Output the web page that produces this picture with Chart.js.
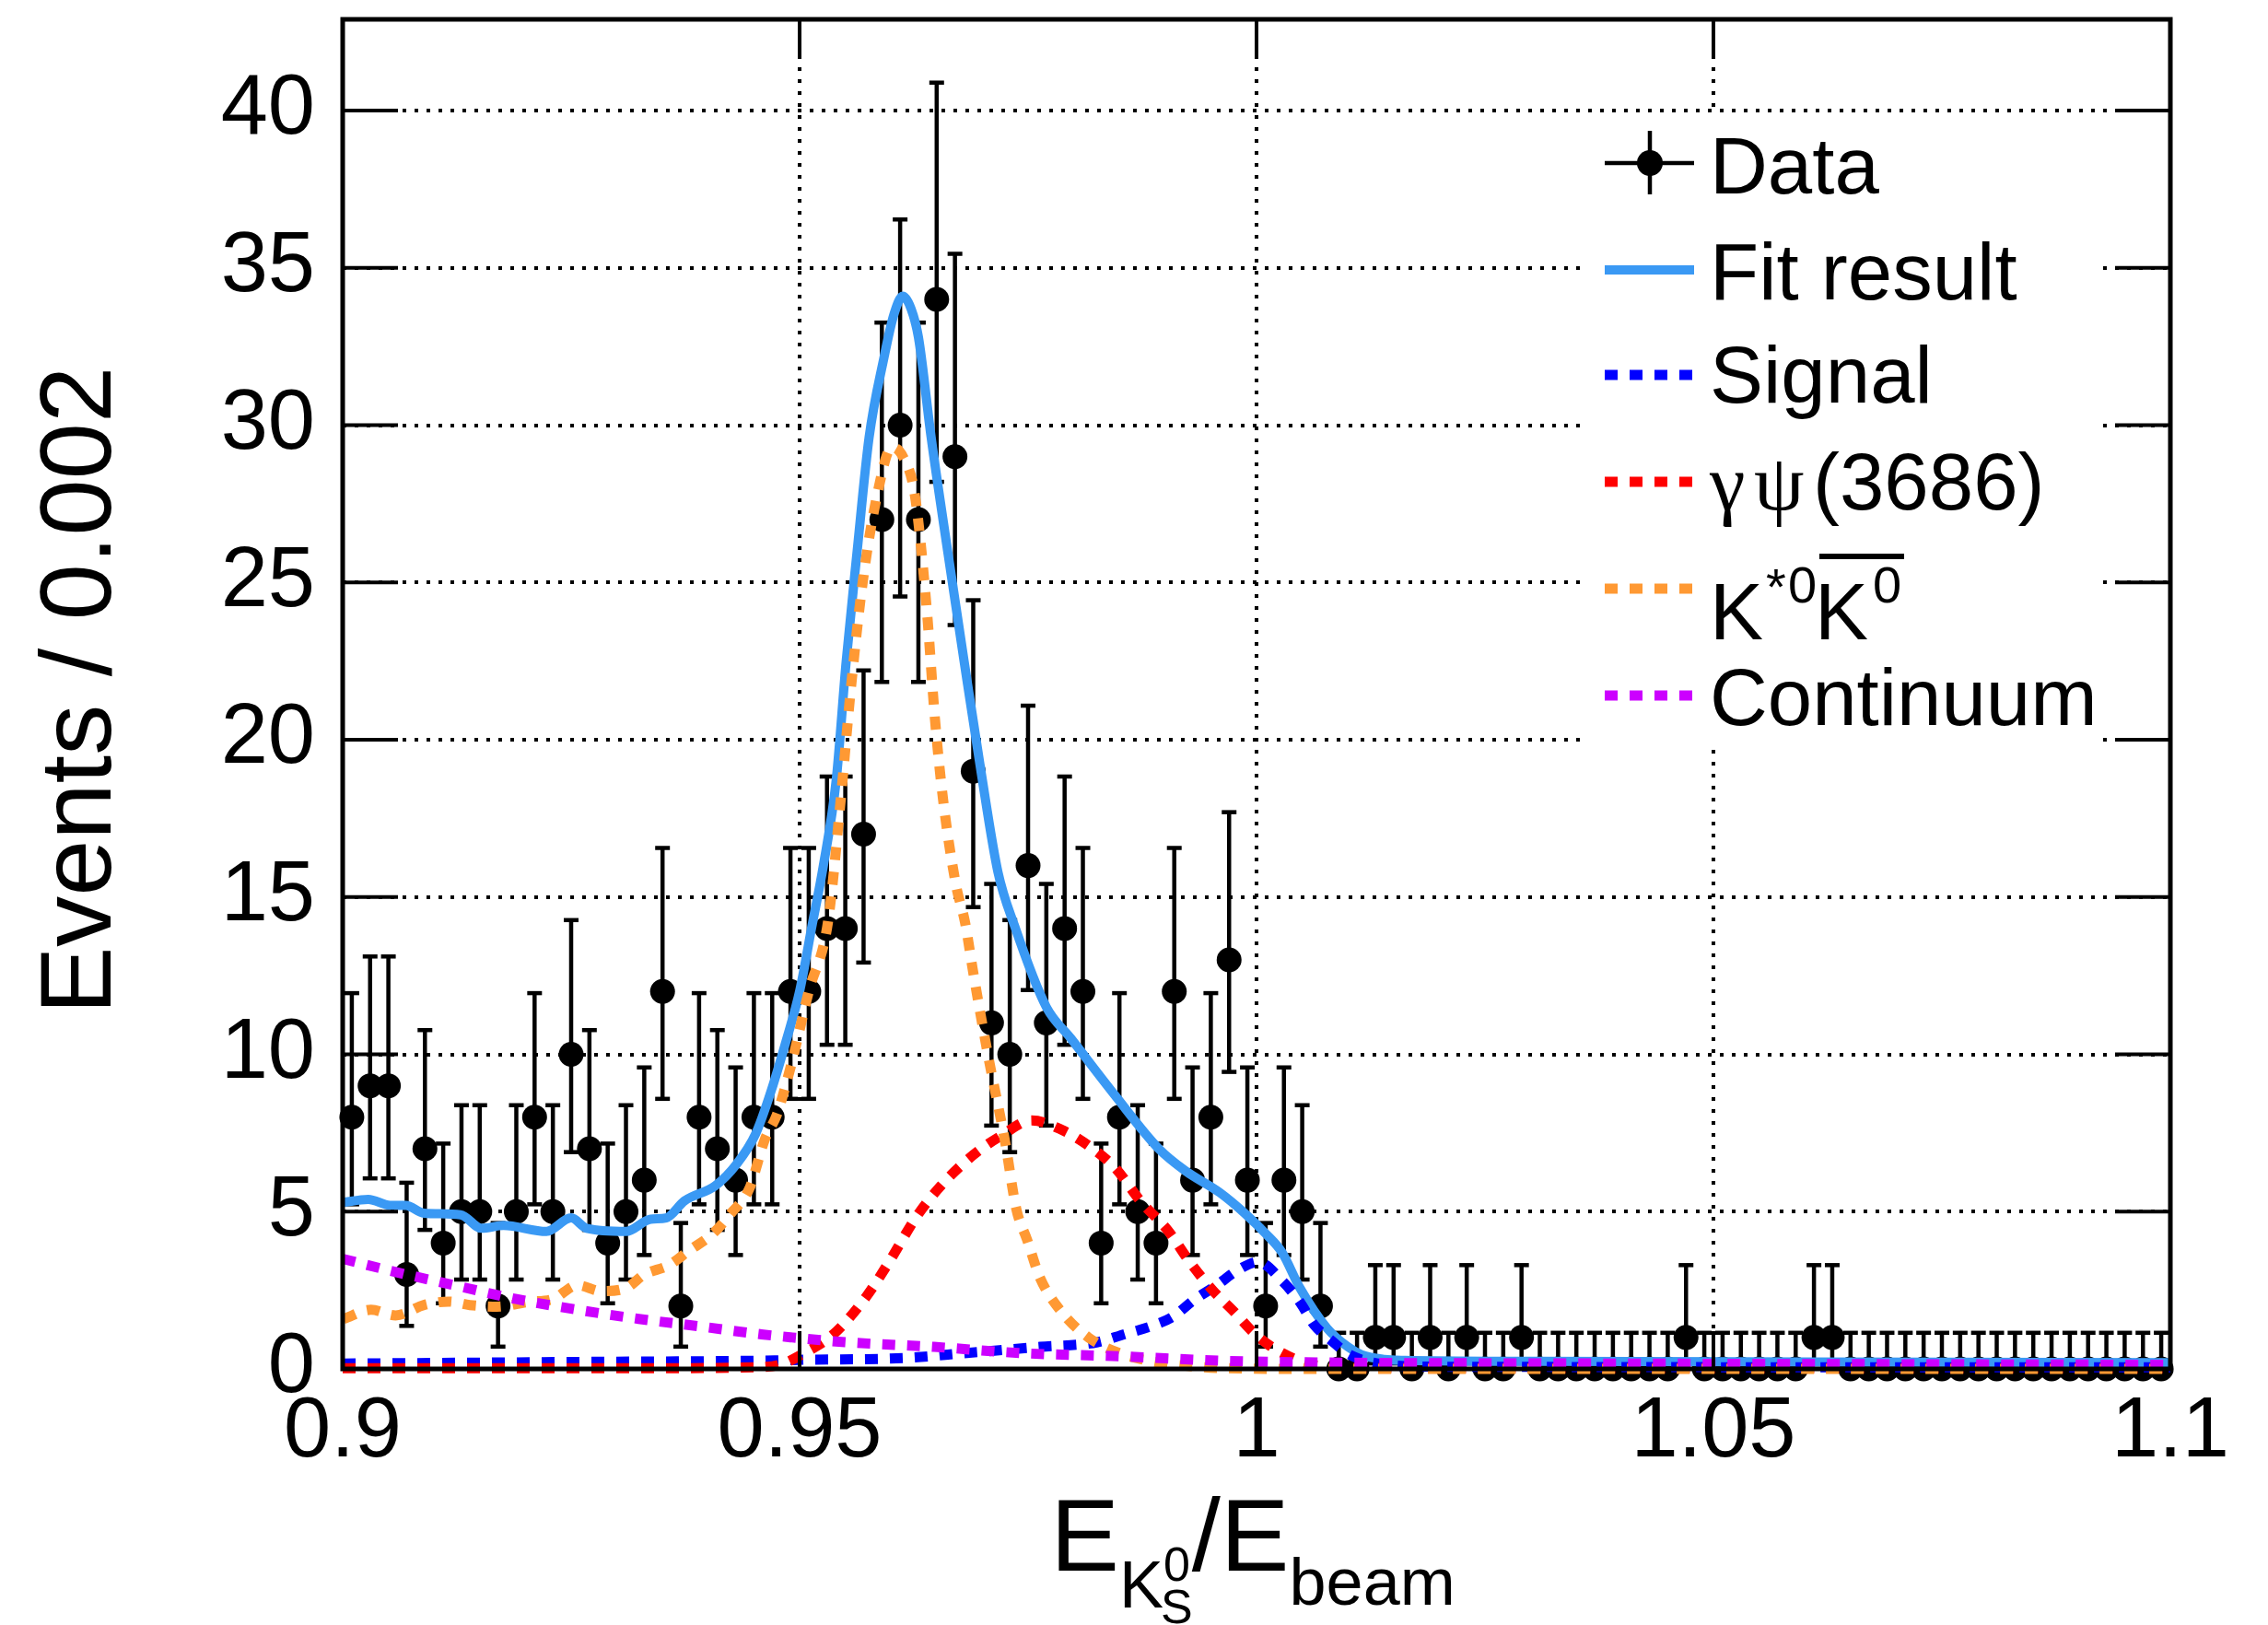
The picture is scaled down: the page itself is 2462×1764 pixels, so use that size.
<!DOCTYPE html>
<html><head><meta charset="utf-8">
<script src="https://cdn.jsdelivr.net/npm/chart.js@4.4.0/dist/chart.umd.min.js"></script>
<style>html,body{margin:0;padding:0;background:#fff;}canvas{display:block;}</style>
</head><body>
<canvas id="c" width="2462" height="1764"></canvas>
<script>
// ---------------- data ----------------
const binWidth = 0.002;
const xMin = 0.9, xMax = 1.1, yMin = 0, yMax = 42.9;
const xTickValues = [0.9, 0.95, 1.0, 1.05, 1.1];
const xTickLabels = ['0.9', '0.95', '1', '1.05', '1.1'];
const yTickValues = [0, 5, 10, 15, 20, 25, 30, 35, 40];
const yTickLabels = ['0', '5', '10', '15', '20', '25', '30', '35', '40'];

// events per bin (100 bins, 0.9 - 1.1)
const counts = [
  8, 9, 9, 3, 7, 4, 5, 5, 2, 5,
  8, 5, 10, 7, 4, 5, 6, 12, 2, 8,
  7, 6, 8, 8, 12, 12, 14, 14, 17, 27,
  30, 27, 34, 29, 19, 11, 10, 16, 11, 14,
  12, 4, 8, 5, 4, 12, 6, 8, 13, 6,
  2, 6, 5, 2, 0, 0, 1, 1, 0, 1,
  0, 1, 0, 0, 1, 0, 0, 0, 0, 0,
  0, 0, 0, 1, 0, 0, 0, 0, 0, 0,
  1, 1, 0, 0, 0, 0, 0, 0, 0, 0,
  0, 0, 0, 0, 0, 0, 0, 0, 0, 0
];

const fitX = [0.900, 0.9028, 0.9052, 0.9069, 0.9089, 0.9129, 0.9152, 0.9176, 0.9223, 0.925, 0.9267, 0.931, 0.9337, 0.9354, 0.9374, 0.9408, 0.9431, 0.9452, 0.9469, 0.9485, 0.9500, 0.9513, 0.9526, 0.9540, 0.9551, 0.9563, 0.9576, 0.9592, 0.9603, 0.9613, 0.9622, 0.9630, 0.9644, 0.9662, 0.9680, 0.9699, 0.9717, 0.9735, 0.9770, 0.9797, 0.9845, 0.9893, 0.9922, 0.9960, 0.9987, 1.0010, 1.0028, 1.0047, 1.0077, 1.0100, 1.0115, 1.0140, 1.0163, 1.0300, 1.0600, 1.1000];
const fitY = [5.29, 5.39, 5.20, 5.20, 4.95, 4.90, 4.47, 4.56, 4.37, 4.80, 4.47, 4.37, 4.76, 4.80, 5.34, 5.83, 6.51, 7.48, 8.85, 10.4, 12.0, 14.0, 16.0, 18.7, 22.5, 26.0, 29.6, 32.1, 33.5, 34.1, 33.7, 32.8, 29.6, 26.0, 22.5, 18.9, 15.8, 14.1, 11.5, 10.5, 8.7, 7.0, 6.3, 5.6, 4.95, 4.3, 3.7, 2.6, 1.3, 0.7, 0.45, 0.3, 0.27, 0.24, 0.22, 0.2];

const sigX = [0.900, 0.925, 0.9475, 0.9505, 0.9618, 0.968, 0.9763, 0.9826, 0.9855, 0.9884, 0.9908, 0.9932, 0.9956, 0.998, 1.0002, 1.0028, 1.0048, 1.0063, 1.0082, 1.0102, 1.0139, 1.02, 1.1];
const sigY = [0.17, 0.22, 0.27, 0.29, 0.35, 0.5, 0.7, 0.85, 1.1, 1.35, 1.65, 2.2, 2.65, 3.15, 3.4, 2.8, 2.1, 1.4, 0.9, 0.45, 0.15, 0.07, 0.05];

const psiX = [0.900, 0.930, 0.945, 0.948, 0.9505, 0.9537, 0.9573, 0.9600, 0.9627, 0.9654, 0.9690, 0.9720, 0.9754, 0.9787, 0.9816, 0.9845, 0.9874, 0.9903, 0.9927, 0.9952, 0.9976, 0.9995, 1.0014, 1.0043, 1.0067, 1.0100, 1.0500, 1.1000];
const psiY = [0.02, 0.02, 0.05, 0.15, 0.5, 1.1, 2.3, 3.5, 4.8, 5.8, 6.8, 7.4, 7.9, 7.6, 7.1, 6.4, 5.3, 4.4, 3.4, 2.5, 1.8, 1.2, 0.75, 0.3, 0.1, 0.03, 0.02, 0.02];

const kkX = [0.9001, 0.9031, 0.9058, 0.9089, 0.9116, 0.9139, 0.9169, 0.9203, 0.923, 0.9257, 0.9283, 0.931, 0.933, 0.9357, 0.938, 0.9404, 0.9425, 0.9445, 0.9462, 0.9475, 0.9485, 0.9492, 0.9510, 0.9531, 0.9545, 0.9556, 0.9569, 0.9585, 0.9601, 0.9613, 0.9626, 0.9639, 0.9648, 0.9657, 0.9671, 0.9681, 0.969, 0.9706, 0.9725, 0.9737, 0.9749, 0.9763, 0.9787, 0.9816, 0.985, 0.9884, 0.993, 0.997, 1.005, 1.1];
const kkY = [1.59, 1.88, 1.70, 2.03, 2.14, 2.03, 1.98, 2.13, 2.22, 2.66, 2.47, 2.57, 3.0, 3.3, 3.78, 4.27, 4.95, 5.73, 7.3, 8.07, 9.04, 9.8, 12.0, 14.2, 18.1, 21.6, 25.0, 27.8, 29.3, 29.0, 27.8, 24.2, 20.7, 18.1, 15.4, 14.2, 12.6, 10.0, 7.2, 5.1, 4.1, 2.9, 1.8, 1.0, 0.5, 0.25, 0.08, 0.02, 0.0, 0.0];

const conX = [0.900, 0.9055, 0.9122, 0.919, 0.9257, 0.9324, 0.9391, 0.9458, 0.9492, 0.955, 0.9647, 0.9744, 0.985, 0.997, 1.0092, 1.04, 1.1];
const conY = [3.5, 3.1, 2.66, 2.22, 1.88, 1.59, 1.35, 1.1, 1.0, 0.85, 0.7, 0.5, 0.4, 0.25, 0.2, 0.17, 0.13];

const legendLabels = ['Data', 'Fit result', 'Signal', 'γψ(3686)', 'K*0K̄0', 'Continuum'];
const seriesColors = ['#000000', '#3a99f4', '#0000ff', '#ff0000', '#ff9933', '#cc00ff'];

// ---------------- helpers ----------------
const FONT = "'Liberation Sans', Arial, Helvetica, sans-serif";
const SERIF = "'Liberation Serif', 'DejaVu Serif', serif";
const binCenters = counts.map((_, i) => xMin + binWidth * (i + 0.5));
const toPts = (xs, ys) => xs.map((x, i) => ({x: x, y: ys[i]}));
const DASH = [14, 13];
const DASH_W = 11, FIT_W = 10;

// Poisson 68.27% central interval (as used for RooFit data points)
function poissonCdf(k, mu) {
  let term = Math.exp(-mu), sum = term;
  for (let j = 1; j <= k; j++) { term *= mu / j; sum += term; }
  return sum;
}
function poissonInterval(n) {
  const a = 0.158655;
  if (n === 0) return [0, 1.1479];
  let lo = 0, hi = n;
  for (let it = 0; it < 60; it++) { const m = (lo + hi) / 2; if (1 - poissonCdf(n - 1, m) < a) lo = m; else hi = m; }
  const low = (lo + hi) / 2;
  lo = n; hi = n + 20 + 4 * Math.sqrt(n);
  for (let it = 0; it < 60; it++) { const m = (lo + hi) / 2; if (poissonCdf(n, m) > a) lo = m; else hi = m; }
  return [low, (lo + hi) / 2];
}

function line(ctx, x1, y1, x2, y2) { ctx.beginPath(); ctx.moveTo(x1, y1); ctx.lineTo(x2, y2); ctx.stroke(); }

const rootPlugin = {
  id: 'rootStyle',
  beforeDatasetsDraw(chart) {
    const {ctx, chartArea: a, scales: {x, y}} = chart;
    ctx.save();
    // dotted grid
    ctx.strokeStyle = '#000'; ctx.lineWidth = 4; ctx.setLineDash([4, 9]);
    xTickValues.forEach(v => { if (v <= xMin + 1e-9 || v >= xMax - 1e-9) return; const px = Math.round(x.getPixelForValue(v)); line(ctx, px, a.top, px, a.bottom); });
    yTickValues.forEach(v => { if (v <= yMin) return; const py = Math.round(y.getPixelForValue(v)); line(ctx, a.left, py, a.right, py); });
    ctx.setLineDash([]);
    // legend background
    ctx.fillStyle = '#fff';
    ctx.fillRect(1715, 125, 567, 687);
    // error bars
    ctx.strokeStyle = '#000'; ctx.lineWidth = 4.5;
    counts.forEach((n, i) => {
      const [lo, hi] = poissonInterval(n);
      const px = x.getPixelForValue(binCenters[i]);
      const pl = y.getPixelForValue(lo), ph = y.getPixelForValue(hi);
      line(ctx, px, pl, px, ph);
      line(ctx, px - 8, ph, px + 8, ph);
      if (n > 0) line(ctx, px - 8, pl, px + 8, pl);
    });
    ctx.restore();
  },
  afterDatasetsDraw(chart) {
    const {ctx, chartArea: a, scales: {x, y}} = chart;
    ctx.save();
    // ticks
    ctx.strokeStyle = '#000'; ctx.lineWidth = 4;
    yTickValues.forEach(v => { const py = y.getPixelForValue(v); line(ctx, a.left, py, a.left + 60, py); line(ctx, a.right - 60, py, a.right, py); });
    xTickValues.forEach(v => { const px = x.getPixelForValue(v); line(ctx, px, a.bottom, px, a.bottom - 41); line(ctx, px, a.top, px, a.top + 41); });
    // frame
    ctx.lineWidth = 5;
    ctx.strokeRect(a.left, a.top, a.right - a.left, a.bottom - a.top);
    ctx.restore();
    drawLegend(ctx);
    drawTitles(ctx, chart);
  }
};

function drawLegend(ctx) {
  const lx0 = 1742, lx1 = 1839, tx = 1856;
  const rowY = [177, 293, 407, 523, 639, 755];
  ctx.save();
  ctx.fillStyle = '#000'; ctx.textBaseline = 'alphabetic'; ctx.textAlign = 'left';
  // Data
  ctx.strokeStyle = '#000'; ctx.lineWidth = 4.5;
  line(ctx, lx0, rowY[0], lx1, rowY[0]);
  line(ctx, 1791, rowY[0] - 35, 1791, rowY[0] + 34);
  ctx.beginPath(); ctx.arc(1791, rowY[0], 14, 0, Math.PI * 2); ctx.fill();
  // lines
  for (let k = 1; k < 6; k++) {
    ctx.strokeStyle = seriesColors[k]; ctx.lineWidth = k === 1 ? FIT_W : DASH_W; ctx.lineCap = 'butt';
    ctx.setLineDash(k === 1 ? [] : DASH);
    line(ctx, lx0, rowY[k], lx1, rowY[k]);
  }
  ctx.setLineDash([]);
  ctx.font = `87px ${FONT}`;
  ctx.fillText(legendLabels[0], tx, rowY[0] + 33);
  ctx.fillText(legendLabels[1], tx, rowY[1] + 32);
  ctx.fillText(legendLabels[2], tx, rowY[2] + 30);
  // gamma psi(3686)
  const bY = rowY[3] + 30;
  ctx.font = `87px ${SERIF}`;
  ctx.fillText(legendLabels[3].charAt(0), tx, bY);
  ctx.fillText(legendLabels[3].charAt(1), 1904, bY);
  ctx.font = `87px ${FONT}`;
  ctx.fillText(legendLabels[3].slice(2), 1968, bY);
  // K*0 K0bar
  const kY = 694;
  ctx.font = `87px ${FONT}`;
  ctx.fillText('K', tx, kY);
  ctx.font = `56px ${FONT}`;
  ctx.fillText('*', 1917, kY - 38);
  ctx.fillText('0', 1941, kY - 40);
  ctx.font = `87px ${FONT}`;
  ctx.fillText('K', 1970, kY);
  ctx.font = `56px ${FONT}`;
  ctx.fillText('0', 2033, kY - 40);
  ctx.fillRect(1975, 601, 92, 6);
  // Continuum
  ctx.font = `87px ${FONT}`;
  ctx.fillText(legendLabels[5], tx, rowY[5] + 32);
  ctx.restore();
}

function drawTitles(ctx, chart) {
  const a = chart.chartArea;
  ctx.save();
  ctx.fillStyle = '#000';
  // y title
  ctx.font = `110px ${FONT}`;
  ctx.textAlign = 'center'; ctx.textBaseline = 'alphabetic';
  ctx.translate(120, (a.top + a.bottom) / 2 - 4);
  ctx.rotate(-Math.PI / 2);
  ctx.fillText('Events / 0.002', 0, 0);
  ctx.restore();
  // x title: E_{K_S^0}/E_beam
  ctx.save();
  ctx.fillStyle = '#000'; ctx.textAlign = 'left'; ctx.textBaseline = 'alphabetic';
  const big = `112px ${FONT}`, sub = `72px ${FONT}`, subsub = `52px ${FONT}`;
  const w = (f, s) => { ctx.font = f; return ctx.measureText(s).width; };
  const ssw = Math.max(w(subsub, '0'), w(subsub, 'S'));
  const total = w(big, 'E') + w(sub, 'K') + ssw - 4 + w(big, '/') + w(big, 'E') + w(sub, 'beam');
  let cx = (a.left + a.right) / 2 - total / 2 - 4;
  const base = 1705;
  ctx.font = big; ctx.fillText('E', cx, base); cx += w(big, 'E');
  ctx.font = sub; ctx.fillText('K', cx, base + 40); cx += w(sub, 'K');
  ctx.font = subsub; ctx.fillText('0', cx, base + 11); ctx.fillText('S', cx - 3, base + 57);
  cx += ssw - 4;
  ctx.font = big; ctx.fillText('/', cx, base); cx += w(big, '/');
  ctx.fillText('E', cx, base); cx += w(big, 'E');
  ctx.font = sub; ctx.fillText('beam', cx, base + 37);
  ctx.restore();
}

// ---------------- chart ----------------
const curveBase = {type: 'line', showLine: true, pointRadius: 0, pointHoverRadius: 0, borderWidth: DASH_W, fill: false, clip: false, cubicInterpolationMode: 'monotone', borderCapStyle: 'butt'};

new Chart(document.getElementById('c'), {
  type: 'scatter',
  data: {
    datasets: [
      {label: legendLabels[0], data: toPts(binCenters, counts), pointRadius: 13.5, pointHoverRadius: 13.5, pointBackgroundColor: '#000', pointBorderWidth: 0, showLine: false, clip: false, order: 10},
      Object.assign({}, curveBase, {label: legendLabels[1], data: toPts(fitX, fitY), borderColor: seriesColors[1], borderWidth: FIT_W, order: 5}),
      Object.assign({}, curveBase, {label: legendLabels[2], data: toPts(sigX, sigY), borderColor: seriesColors[2], borderDash: DASH, order: 4}),
      Object.assign({}, curveBase, {label: legendLabels[3], data: toPts(psiX, psiY), borderColor: seriesColors[3], borderDash: DASH, order: 3}),
      Object.assign({}, curveBase, {label: legendLabels[4], data: toPts(kkX, kkY), borderColor: seriesColors[4], borderDash: DASH, order: 2}),
      Object.assign({}, curveBase, {label: legendLabels[5], data: toPts(conX, conY), borderColor: seriesColors[5], borderDash: DASH, order: 1})
    ]
  },
  options: {
    responsive: false, animation: false, devicePixelRatio: 1,
    layout: {padding: {top: 21, right: 106, left: 0, bottom: 0}},
    elements: {line: {borderWidth: DASH_W, borderCapStyle: 'butt'}},
    plugins: {legend: {display: false}, tooltip: {enabled: false}},
    events: [],
    scales: {
      x: {
        type: 'linear', min: xMin, max: xMax,
        grid: {display: false, drawTicks: false}, border: {display: false},
        afterBuildTicks: s => { s.ticks = xTickValues.map(v => ({value: v})); },
        afterFit: s => { s.height = 278; s.paddingLeft = 0; s.paddingRight = 0; },
        ticks: {autoSkip: false, maxRotation: 0, minRotation: 0, padding: 14, color: '#000', font: {family: FONT, size: 92}, callback: (v, i) => xTickLabels[i]}
      },
      y: {
        type: 'linear', min: yMin, max: yMax,
        grid: {display: false, drawTicks: false}, border: {display: false},
        afterBuildTicks: s => { s.ticks = yTickValues.map(v => ({value: v})); },
        afterFit: s => { s.width = 372; s.paddingTop = 0; s.paddingBottom = 0; },
        ticks: {autoSkip: false, padding: 30, color: '#000', font: {family: FONT, size: 92}, callback: (v, i) => yTickLabels[i]}
      }
    }
  },
  plugins: [rootPlugin]
});
</script>
</body></html>
